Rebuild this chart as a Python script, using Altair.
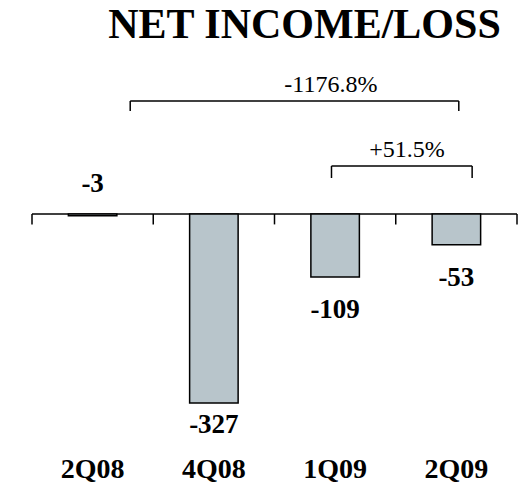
import altair as alt
import pandas as pd

# ---- data ----
quarters = ["2Q08", "4Q08", "1Q09", "2Q09"]
net_income = [-3, -327, -109, -53]
changes = ["-1176.8%", "+51.5%"]
change_from = [0, 2]   # index of start quarter
change_to = [3, 3]     # index of end quarter

FONT = "Liberation Serif"
BAR_COLOR = "#B8C5CB"

df = pd.DataFrame({"q": quarters, "v": net_income, "i": list(range(len(quarters)))})
df["x0"] = df["i"] + 0.3
df["x1"] = df["i"] + 0.7
df["xc"] = df["i"] + 0.5
df["lab"] = df["v"].astype(str)

W, H = 485, 430
xs = alt.Scale(domain=[0, 4], nice=False, zero=False)
ys = alt.Scale(domain=[-460.2, 283.75], nice=False, zero=False)


def X(f):
    return alt.X(f, scale=xs, axis=None)


def Y(f):
    return alt.Y(f, scale=ys, axis=None)


bars = alt.Chart(df).mark_bar(color=BAR_COLOR, stroke="black", strokeWidth=1.5).encode(
    x=X("x0:Q"), x2="x1:Q", y=Y("v:Q"), y2=alt.datum(0),
)


def value_text(sub, dy):
    return alt.Chart(sub).mark_text(
        font=FONT, fontSize=27, fontWeight="bold", baseline="alphabetic",
        color="black", dy=dy
    ).encode(x=X("xc:Q"), y=Y("v:Q"), text="lab:N")


value_labels = [
    value_text(df[df["v"] > -10], -24),
    value_text(df[df["v"] < -300], 30),
    value_text(df[(df["v"] <= -10) & (df["v"] >= -300)], 41),
]

cat_labels = alt.Chart(df).mark_text(
    font=FONT, fontSize=28, fontWeight="bold", baseline="alphabetic", color="black"
).encode(x=X("xc:Q"), y=alt.value(428), text="q:N")

axis_line = alt.Chart(pd.DataFrame({"a0": [0], "a1": [4], "z": [0]})).mark_rule(
    color="black", strokeWidth=1.5
).encode(x=X("a0:Q"), x2="a1:Q", y=Y("z:Q"))
axis_ticks = alt.Chart(pd.DataFrame({"tk": [0, 1, 2, 3, 4], "z": [0] * 5, "z2": [-18] * 5})).mark_rule(
    color="black", strokeWidth=1.5
).encode(x=X("tk:Q"), y=Y("z:Q"), y2="z2:Q")

# brackets
layers = []
br_y = [51, 116]       # pixel y of bracket top line
br_drop = [10, 12]
lab_y = [42, 107]
lab_shift = [0.30, 0.043]
left_shift = [0.31, -0.03]
right_shift = [0.02, 0.13]
for k in range(len(changes)):
    a = change_from[k] + 0.5 + left_shift[k]
    b = change_to[k] + 0.5 + right_shift[k]
    top = alt.Chart(pd.DataFrame({"ba": [a], "bb": [b]})).mark_rule(color="black", strokeWidth=1.5).encode(
        x=X("ba:Q"), x2="bb:Q", y=alt.value(br_y[k])
    )
    sides = alt.Chart(pd.DataFrame({"be": [a, b]})).mark_rule(color="black", strokeWidth=1.5).encode(
        x=X("be:Q"), y=alt.value(br_y[k]), y2=alt.value(br_y[k] + br_drop[k])
    )
    lab = alt.Chart(pd.DataFrame({"lx": [(a + b) / 2 + lab_shift[k]], "lt": [changes[k]]})).mark_text(
        font=FONT, fontSize=24, baseline="alphabetic", color="black"
    ).encode(x=X("lx:Q"), y=alt.value(lab_y[k]), text="lt:N")
    layers += [top, sides, lab]

chart = alt.layer(axis_line, axis_ticks, bars, *value_labels, cat_labels, *layers).properties(
    width=W,
    height=H,
    padding={"left": 24, "top": 42, "right": 4, "bottom": 6},
    autosize=alt.AutoSizeParams(type="none"),
    title=alt.TitleParams(
        "NET INCOME/LOSS", font=FONT, fontSize=42, fontWeight="bold",
        anchor="middle", dx=30, offset=3, color="black"
    ),
).configure_view(stroke=None)

chart.save("out.html", embed_options={"renderer": "svg", "actions": False})
